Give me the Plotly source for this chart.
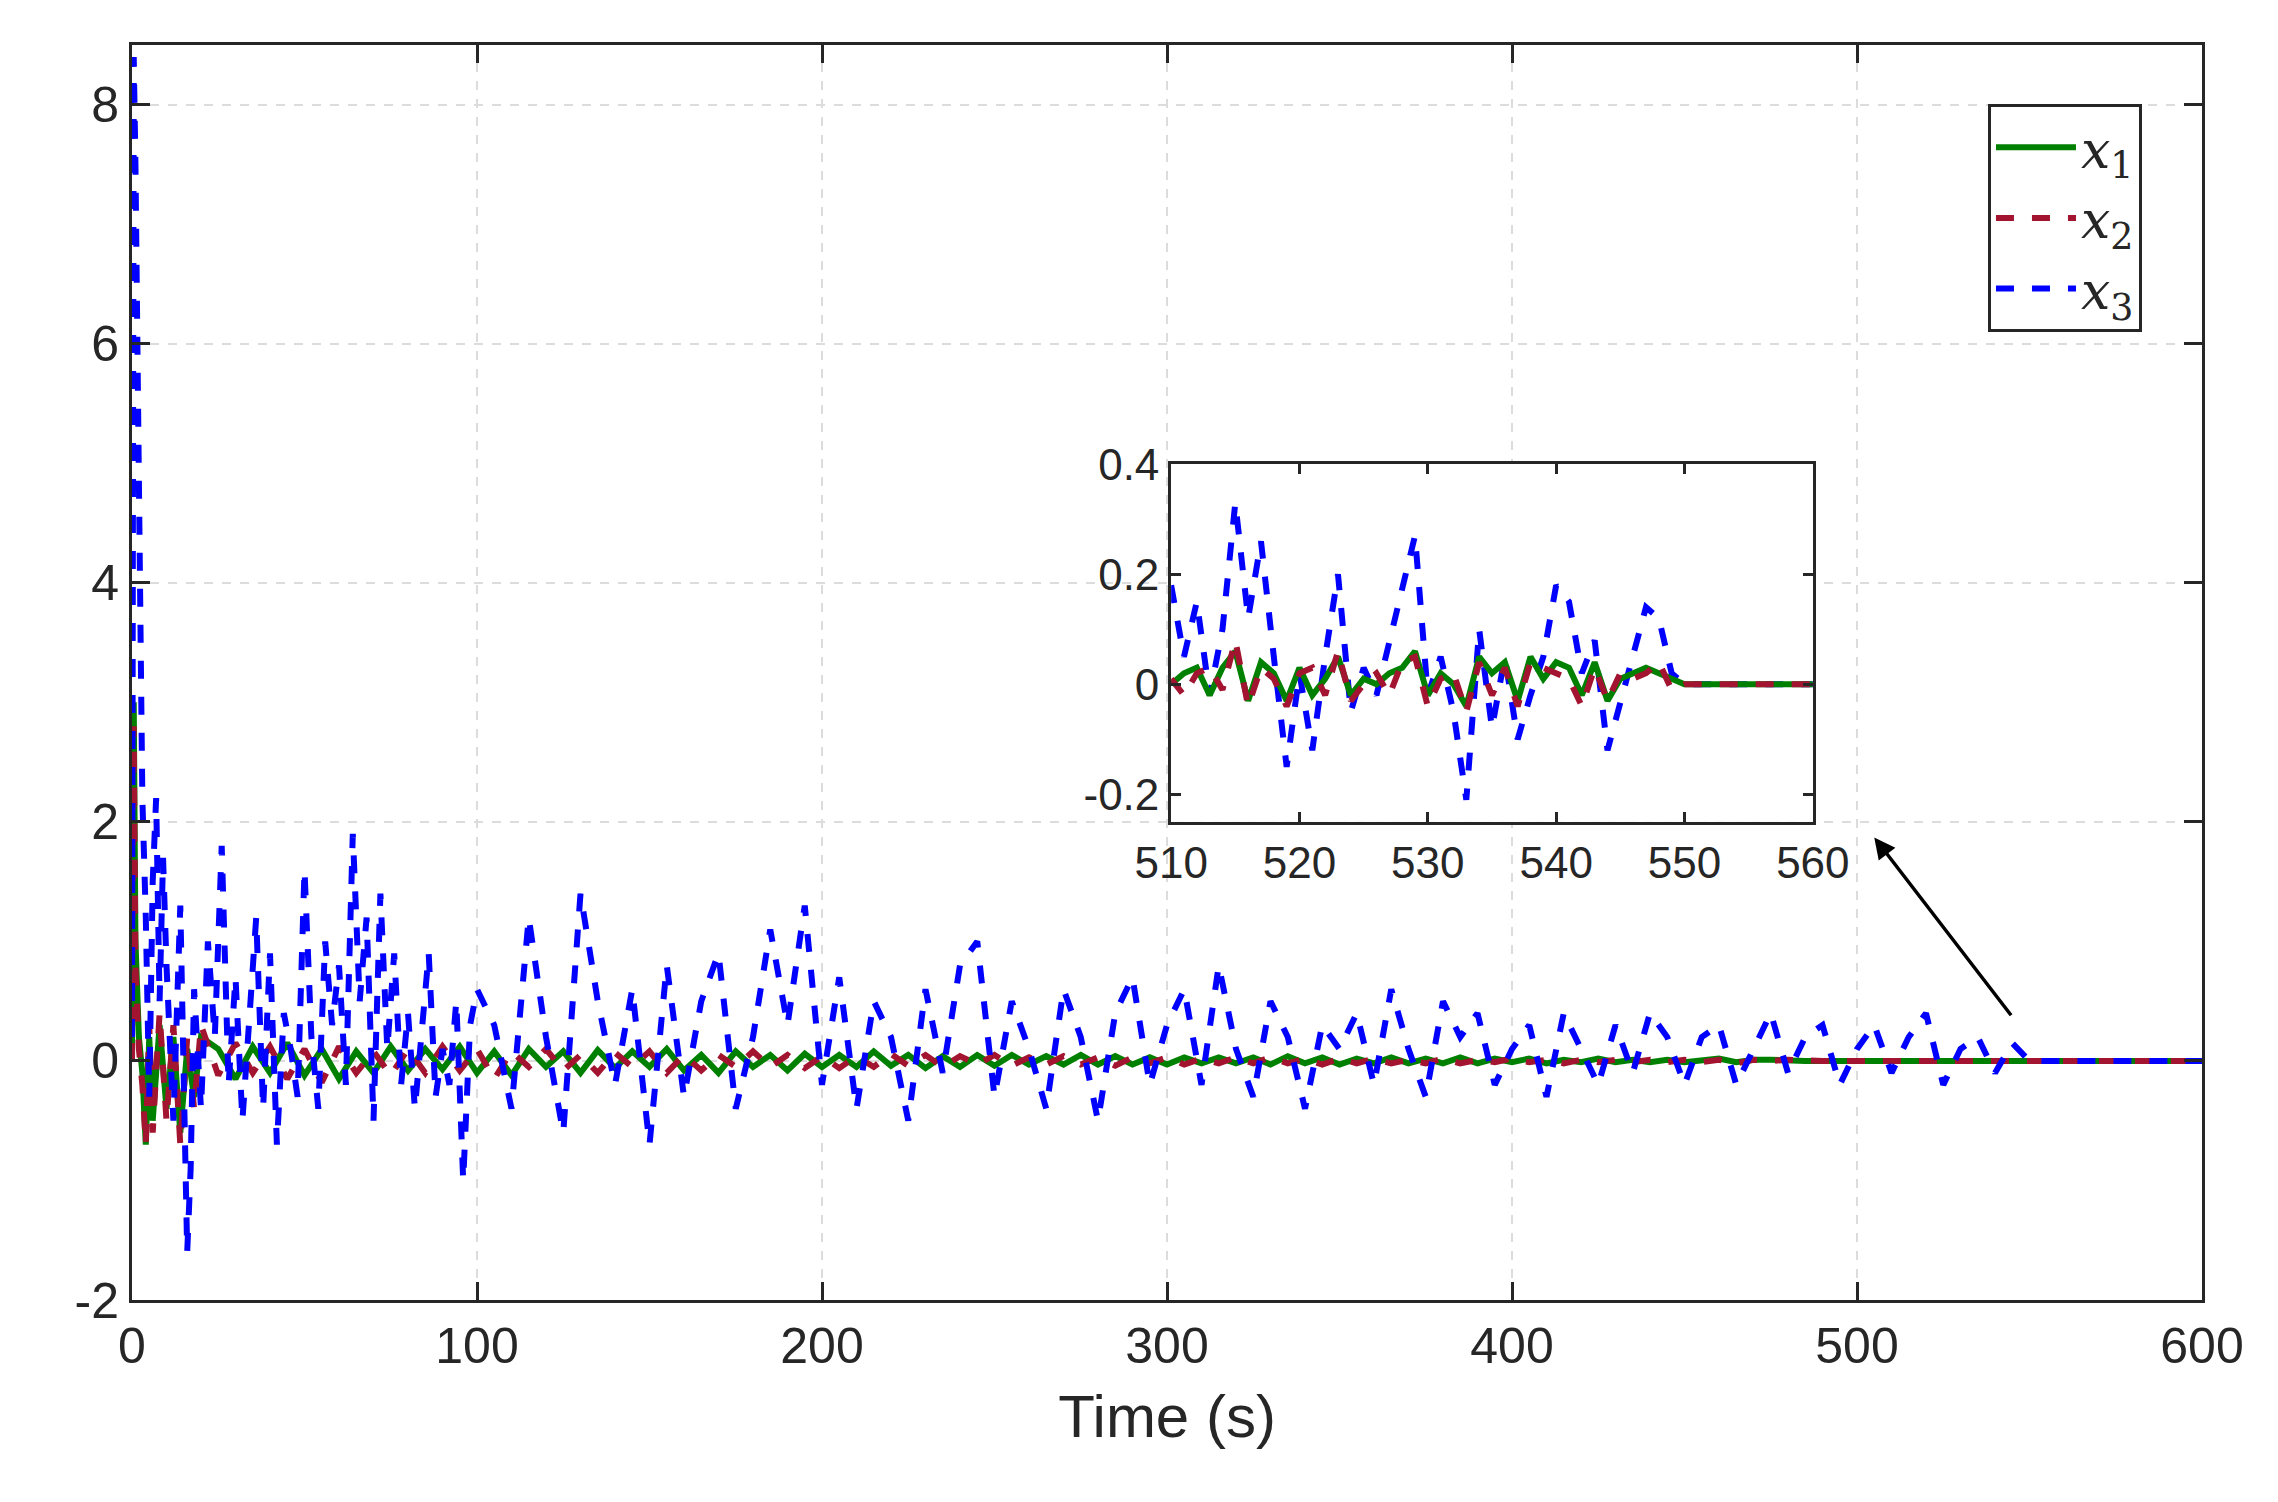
import plotly.graph_objects as go

# main plot data
t3 = [0, 0.5, 1, 1.5, 2, 2.5, 3, 4, 5, 6, 7, 8, 9, 10, 12, 14, 16, 17, 18, 20,
      22, 24, 26, 28, 30, 32, 34, 36, 38, 40, 42, 44, 46, 48, 50, 52, 54, 56, 58, 60,
      62, 64, 66, 68, 70, 72, 74, 76, 78, 80, 82, 84, 86, 88, 90, 92, 94, 96, 98, 100]
t3 += list(range(105, 551, 5)) + [560, 600]
x3 = [0.2, 8.4, 7.5, 6, 4.5, 3.2, 2.2, 1.2, -0.3, 1.5, 2.2, 0.5, 1.7, 0.8, -0.5, 1.3, -1.6, -0.9, 0.6, -0.4,
      1.0, 0.2, 1.8, -0.2, 0.7, -0.5, 0.3, 1.2, -0.4, 0.9, -0.7, 0.4, 0.1, -0.3, 1.6, 0.2, -0.4, 1.0, 0.3, 0.8,
      -0.2, 1.9, 0.5, 1.2, -0.5, 1.4, 0.1, 0.9, -0.2, 0.4, -0.4, 0.3, 0.9, -0.3, 0.1, -0.2, 0.5, -1.0, 0.3, 0.6,
      0.3, -0.4, 1.2, 0.2, -0.6, 1.4, 0.5, -0.2, 0.6, -0.7,
      0.8, -0.3, 0.5, 0.9, -0.4, 0.2, 1.1, 0.3, 1.3, -0.2,
      0.7, -0.4, 0.5, 0.2, -0.5, 0.6, -0.1, 0.8, 1.0, -0.3,
      0.5, 0.1, -0.4, 0.6, 0.2, -0.5, 0.4, 0.7, -0.2, 0.3,
      0.6, -0.2, 0.8, 0.1, -0.3, 0.5, 0.2, -0.4, 0.3, 0.1,
      0.4, -0.2, 0.6, 0.1, -0.3, 0.5, 0.2, 0.4, -0.2, 0.1,
      0.3, -0.3, 0.4, 0.1, -0.2, 0.3, -0.1, 0.4, 0.2, -0.2,
      0.2, 0.3, -0.2, 0.1, 0.4, -0.1, 0.2, 0.3, -0.2, 0.1,
      0.3, -0.1, 0.2, 0.4, -0.2, 0.1, 0.2, -0.1, 0.15, 0.0,
      0, 0]

# x1, x2: early samples, then one sample every 5 s from 25 s on
t12_early = [0, 0.5, 1, 1.5, 2, 3, 4, 5, 6, 8, 10, 12, 14, 16, 18, 20]
x1 = [0, 3.0, 1.0, 0.4, 0.2, -0.1, -0.7, 0.2, -0.5, 0.3, -0.4, 0.2, -0.6, 0.1, -0.3, 0.2,
      0.1, -0.15, 0.12, -0.1, 0.15, -0.12, 0.1, -0.15, 0.08, -0.1, 0.12, -0.08,
      0.1, -0.07, 0.12, -0.1, 0.08, -0.12, 0.1, -0.05, 0.08, -0.1, 0.09, -0.06,
      0.08, -0.05, 0.1, -0.08, 0.05, -0.1, 0.08, -0.05, 0.05, -0.08, 0.06, -0.05,
      0.05, -0.05, 0.08, -0.04, 0.05, -0.06, 0.04, -0.05, 0.05, -0.04, 0.05, -0.03,
      0.04, -0.03, 0.05, -0.03, 0.04, -0.03, 0.03, -0.03, 0.03, -0.02, 0.03, -0.02,
      0.03, -0.03, 0.04, -0.02, 0.03, -0.03, 0.02, -0.02, 0.03, -0.02, 0.02, -0.02,
      0.03, -0.02, 0.02, -0.01, 0.02, -0.02, 0.01, -0.01, 0.02, -0.01, 0.01, -0.01,
      0.01, -0.01, 0.01, 0.02, -0.01, 0.01, 0.01, 0, 0, 0, 0, 0, 0, 0]
x2 = [0, 2.8, 0.8, 0.3, 0.1, -0.2, -0.7, 0.3, -0.6, 0.4, -0.5, 0.3, -0.7, 0.2, -0.4, 0.3,
      -0.12, 0.15, -0.1, 0.12, -0.15, 0.1, -0.18, 0.12, -0.1, 0.08, -0.12, 0.1,
      -0.1, 0.12, -0.08, 0.1, -0.15, 0.08, -0.05, 0.1, -0.08, 0.05, -0.1, 0.07,
      -0.05, 0.08, -0.1, 0.05, -0.08, 0.05, -0.05, 0.08, -0.05, 0.05, -0.06, 0.04,
      -0.06, 0.04, -0.05, 0.06, -0.04, 0.05, -0.05, 0.04, -0.03, 0.05, -0.04, 0.03,
      -0.03, 0.04, -0.03, 0.03, -0.04, 0.03, -0.02, 0.03, -0.03, 0.02, -0.02, 0.03,
      -0.02, 0.03, -0.02, 0.02, -0.03, 0.02, -0.02, 0.02, -0.02, 0.01, -0.02, 0.02,
      -0.02, 0.01, -0.01, 0.02, -0.01, 0.01, -0.02, 0.01, -0.01, 0.01, -0.01, 0.01,
      -0.01, 0.01, -0.01, 0.01, -0.02, 0.01, 0, 0.01, 0, 0, 0, 0, 0, 0]
x1 = x1 + [0]
x2 = x2 + [0]
t12 = t12_early + [25 + 5 * i for i in range(len(x1) - len(t12_early) - 1)] + [600]

# inset data
ti = list(range(510, 551)) + [560]
x3i = [0.18, 0.05, 0.15, -0.02, 0.1, 0.33, 0.12, 0.26, 0.05, -0.15, 0.02, -0.12, 0.05, 0.2, -0.05,
       0.03, -0.02, 0.08, 0.18, 0.27, -0.02, 0.05, -0.05, -0.21, 0.1, -0.08, 0.05, -0.1, -0.02, 0.05,
       0.18, 0.15, 0.02, 0.08, -0.12, -0.03, 0.05, 0.14, 0.12, 0.02, 0, 0]
x1i = [0, 0.02, 0.03, -0.02, 0.03, 0.06, -0.03, 0.04, 0.02, -0.03, 0.03, -0.02, 0.01, 0.05, -0.02,
       0.01, 0, 0.02, 0.03, 0.06, -0.02, 0.02, 0, -0.04, 0.05, 0.02, 0.04, -0.03, 0.05, 0.01,
       0.04, 0.03, -0.02, 0.04, -0.03, 0.01, 0.02, 0.03, 0.02, 0.01, 0, 0]
x2i = [0.01, -0.02, 0.02, 0.03, -0.01, 0.08, -0.04, 0.03, 0.01, -0.04, 0.02, 0.03, -0.02, 0.06, -0.03,
       0, 0.02, -0.02, 0.04, 0.05, -0.04, 0.01, 0.02, -0.05, 0.04, -0.02, 0.03, -0.04, 0.04, 0.03,
       0.02, 0.01, -0.04, 0.03, -0.03, 0.02, 0.01, 0.02, 0.04, -0.01, 0, 0]

green = "#008000"
red = "#A2142F"
blue = "#0000FF"
names = ["<i>x</i><sub>1</sub>", "<i>x</i><sub>2</sub>", "<i>x</i><sub>3</sub>"]

fig = go.Figure()
fig.add_trace(go.Scatter(x=t12, y=x1, mode="lines", name=names[0], line=dict(color=green, width=6)))
fig.add_trace(go.Scatter(x=t12, y=x2, mode="lines", name=names[1], line=dict(color=red, width=6, dash="dash")))
fig.add_trace(go.Scatter(x=t3, y=x3, mode="lines", name=names[2], line=dict(color=blue, width=6, dash="dash")))
# inset traces
fig.add_trace(go.Scatter(x=ti, y=x3i, mode="lines", showlegend=False, xaxis="x2", yaxis="y2",
                         line=dict(color=blue, width=6, dash="dash")))
fig.add_trace(go.Scatter(x=ti, y=x1i, mode="lines", showlegend=False, xaxis="x2", yaxis="y2",
                         line=dict(color=green, width=6)))
fig.add_trace(go.Scatter(x=ti, y=x2i, mode="lines", showlegend=False, xaxis="x2", yaxis="y2",
                         line=dict(color=red, width=6, dash="dash")))

axis_common = dict(showline=True, linecolor="#262626", linewidth=3, mirror="ticks", ticks="inside",
                   tickcolor="#262626", tickwidth=3, zeroline=False)
fig.update_layout(
    width=2278, height=1502,
    margin=dict(l=124, r=84, t=32, b=210),
    paper_bgcolor="white", plot_bgcolor="white",
    font=dict(family="Liberation Sans, Arial", size=50, color="#262626"),
    xaxis=dict(range=[0, 600], dtick=100, ticklen=18, showgrid=True, gridcolor="#dcdcdc", gridwidth=2,
               griddash="dash", title=dict(text="Time (s)", standoff=22), **axis_common),
    yaxis=dict(range=[-2, 8.5], tickvals=[-2, 0, 2, 4, 6, 8], ticktext=["-2", "0", "2", "4", "6", "8"],
               ticklen=18, showgrid=True, gridcolor="#dcdcdc", gridwidth=2, griddash="dash", **axis_common),
    xaxis2=dict(domain=[0.502, 0.812], anchor="y2", range=[510, 560], dtick=10, ticklen=10,
                showgrid=False, tickfont=dict(size=44), **axis_common),
    yaxis2=dict(domain=[0.381, 0.666], anchor="x2", range=[-0.25, 0.4], tickvals=[-0.2, 0, 0.2, 0.4],
                ticktext=["-0.2", "0", "0.2", "0.4"], ticklen=10, showgrid=False, tickfont=dict(size=44),
                **axis_common),
    legend=dict(x=0.971, y=0.953, xanchor="right", yanchor="top", bgcolor="white", bordercolor="#262626",
                borderwidth=3, font=dict(family="DejaVu Serif", size=52), tracegroupgap=0,
                itemwidth=80),
    shapes=[dict(type="rect", xref="paper", yref="paper", x0=0.502, x1=0.812, y0=0.381, y1=0.666,
                 fillcolor="white", line=dict(width=0), layer="between")],
    annotations=[dict(x=505, y=1.87, ax=545, ay=0.37, xref="x", yref="y", axref="x", ayref="y",
                      showarrow=True, arrowhead=2, arrowsize=1.2, arrowwidth=3.5, arrowcolor="black", text="")],
)

fig.write_html("out.html")
